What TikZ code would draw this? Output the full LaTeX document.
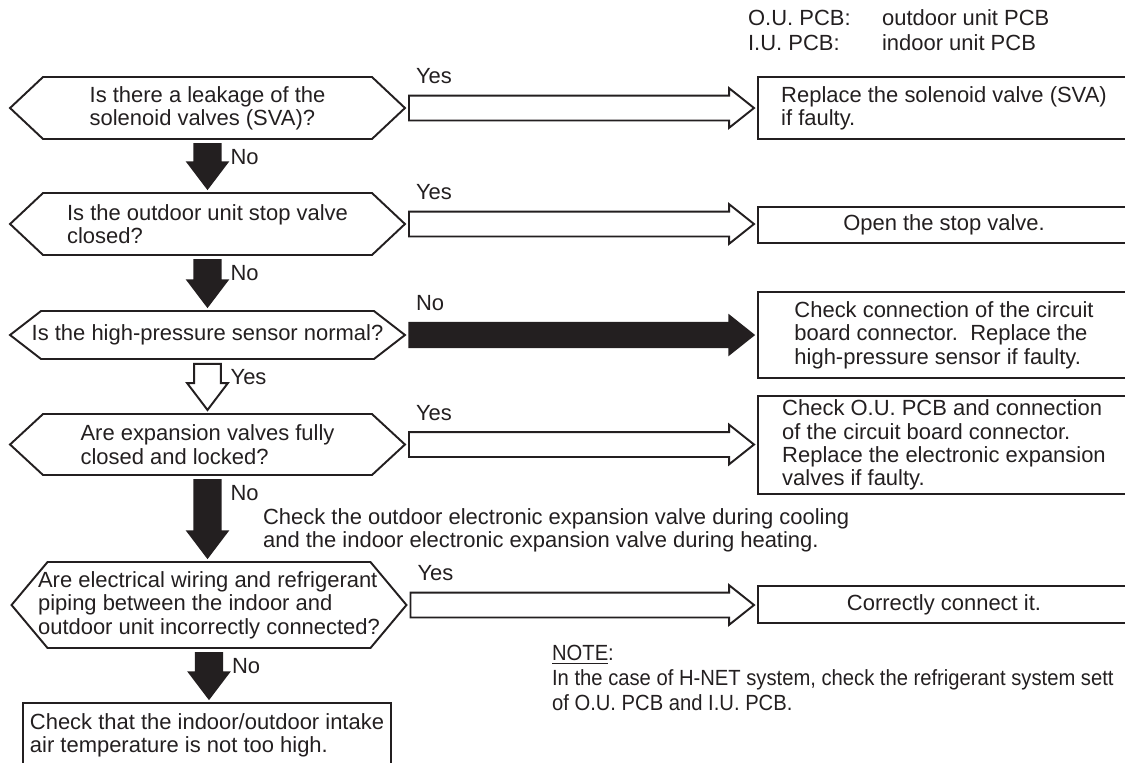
\documentclass[tikz,border=0pt]{standalone}
\usepackage{fontspec}
\setmainfont{Liberation Sans}
\newfontfamily\notefont[FakeStretch=0.92]{Liberation Sans}
\usetikzlibrary{calc}

\definecolor{ink}{HTML}{231F20}

% decision outline round a node (node, corner inset)
\newcommand{\hexframe}[2]{%
  \draw[frame] ($(#1.north west)+(#2,0)$) -- ($(#1.north east)+(-#2,0)$) -- (#1.east)
    -- ($(#1.south east)+(-#2,0)$) -- ($(#1.south west)+(#2,0)$) -- (#1.west) -- cycle;}
% fat arrow to the right, from node to node
\newcommand{\rightfat}[3][yesfat]{%
  \draw[#1] let \p1=(#2), \p2=(#3) in
    (\x1+2.3pt,\y1+7.1pt) -- (\x2-16.5pt,\y1+7.1pt) -- (\x2-16.5pt,\y1+11.3pt)
    -- (\x2-2.3pt,\y1) -- (\x2-16.5pt,\y1-11.3pt) -- (\x2-16.5pt,\y1-7.1pt)
    -- (\x1+2.3pt,\y1-7.1pt) -- cycle;}
% fat arrow downwards, from node to node
\newcommand{\downfat}[3][nofat]{%
  \draw[#1] let \p1=(#2), \p2=(#3) in
    (\x1-7.6pt,\y1-2.8pt) -- (\x1+7.6pt,\y1-2.8pt) -- (\x1+7.6pt,\y2+17.6pt)
    -- (\x1+11.6pt,\y2+17.6pt) -- (\x1,\y2+2.3pt) -- (\x1-11.6pt,\y2+17.6pt)
    -- (\x1-7.6pt,\y2+17.6pt) -- cycle;}

\begin{document}
\begin{tikzpicture}[x=0.02cm, y=-0.02cm,
    every node/.style={text=ink, font=\fontsize{12.5}{13.3}\selectfont},
    frame/.style={draw=ink, line width=1.1pt, line join=miter},
    question/.style={minimum width=7.9cm, inner sep=0pt, outer sep=0pt, align=left},
    action/.style={draw=ink, line width=1.1pt, minimum width=7.44cm, inner sep=0pt, outer sep=0pt, align=left},
    lbl/.style={inner sep=1pt, anchor=west},
    yesfat/.style={draw=ink, fill=white, line width=1.1pt, line join=miter},
    nofat/.style={draw=ink, fill=ink, line width=0.8pt, line join=miter}]
    \useasboundingbox (0,0) rectangle (1125,762);

    % Abbreviations
    \node[lbl] (k1) at (746,18) {O.U. PCB:};
    \node[lbl] (k1d) at (880,18) {outdoor unit PCB};
    \node[lbl] (k2) at (746,43) {I.U. PCB:};
    \node[lbl] (k2d) at (880,43) {indoor unit PCB};

    % Questions
    \node[question, minimum height=1.24cm] (q1) at (207.5,108) {Is there a leakage of the\\solenoid valves (SVA)?};
    \node[question, minimum height=1.24cm] (q2) at (207.5,224) {Is the outdoor unit stop valve\\closed?};
    \node[question, minimum height=0.96cm] (q3) at (207.5,335) {Is the high-pressure sensor normal?};
    \node[question, minimum height=1.22cm] (q4) at (207.5,444.5) {Are expansion valves fully\\closed and locked?};
    \node[question, minimum height=1.72cm] (q5) at (209,605) {Are electrical wiring and refrigerant\\piping between the indoor and\\outdoor unit incorrectly connected?};
    \hexframe{q1}{33}
    \hexframe{q2}{33}
    \hexframe{q3}{31}
    \hexframe{q4}{33}
    \hexframe{q5}{36}

    % Remedies
    \node[action, minimum height=1.24cm] (r1) at (944,108) {Replace the solenoid valve (SVA)\\if faulty.};
    \node[action, minimum height=0.72cm] (r2) at (944,225) {Open the stop valve.};
    \node[action, minimum height=1.72cm] (r3) at (944,335) {Check connection of the circuit\\board connector.\ \ Replace the\\high-pressure sensor if faulty.};
    \node[action, minimum height=1.96cm] (r4) at (944,445) {Check O.U. PCB and connection\\of the circuit board connector.\\Replace the electronic expansion\\valves if faulty.};
    \node[action, minimum height=0.74cm] (r5) at (944,604.5) {Correctly connect it.};
    \node[action, minimum width=7.36cm, minimum height=1.28cm] (e) at (207,735) {Check that the indoor/outdoor intake\\air temperature is not too high.};

    % Arrows to the right
    \rightfat[yesfat]{q1.east}{r1.west}
    \rightfat[yesfat]{q2.east}{r2.west}
    \rightfat[nofat]{q3.east}{r3.west}
    \rightfat[yesfat]{q4.east}{r4.west}
    \rightfat[yesfat]{q5.east}{r5.west}
    \node[lbl] (a1) at ($(q1.east)+(9,-31.5)$) {Yes};
    \node[lbl] (a2) at ($(q2.east)+(9,-31.5)$) {Yes};
    \node[lbl] (a3) at ($(q3.east)+(9,-31.5)$) {No};
    \node[lbl] (a4) at ($(q4.east)+(9,-31.5)$) {Yes};
    \node[lbl] (a5) at ($(q5.east)+(9,-31.5)$) {Yes};

    % Arrows downwards
    \downfat[nofat]{q1.south}{q2.north}
    \downfat[nofat]{q2.south}{q3.north}
    \downfat[yesfat]{q3.south}{q4.north}
    \downfat[nofat]{q4.south}{q5.north}
    \downfat[nofat]{q5.south}{e.north}
    \node[lbl] (d1) at ($(q1.south)+(21,18)$) {No};
    \node[lbl] (d2) at ($(q2.south)+(21,18)$) {No};
    \node[lbl] (d3) at ($(q3.south)+(21,18)$) {Yes};
    \node[lbl] (d4) at ($(q4.south)+(21,18)$) {No};
    \node[lbl] (d5) at ($(q5.south)+(21,18)$) {No};

    % Notes
    \node[lbl, align=left] (hint) at (261,530) {Check the outdoor electronic expansion valve during cooling\\and the indoor electronic expansion valve during heating.};
    \node[lbl, align=left, font=\notefont\fontsize{12.5}{14.2}\selectfont] (note) at (550,678) {\underline{NOTE}:\\In the case of H-NET system, check the refrigerant system sett\\of O.U. PCB and I.U. PCB.};
\end{tikzpicture}
\end{document}
